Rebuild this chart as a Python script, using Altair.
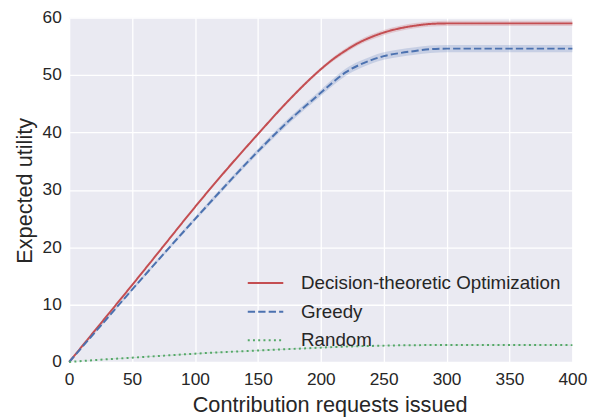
import altair as alt
import pandas as pd

x_vals = [0, 25, 50, 75, 100, 125, 150, 175, 200, 210, 220, 230, 240, 250, 262, 275, 287, 300, 325, 350, 375, 400]
dto = [0, 6.7, 13.4, 20.2, 27.0, 33.5, 39.7, 45.7, 51.0, 52.8, 54.3, 55.6, 56.6, 57.4, 58.1, 58.6, 58.9, 59.0, 59.0, 59.0, 59.0, 59.0]
greedy = [0, 6.3, 12.6, 18.8, 24.9, 30.9, 36.7, 42.1, 46.9, 48.8, 50.5, 51.7, 52.6, 53.3, 53.8, 54.2, 54.5, 54.6, 54.6, 54.6, 54.6, 54.6]
rand = [0, 0.4, 0.75, 1.1, 1.45, 1.75, 2.0, 2.25, 2.5, 2.6, 2.68, 2.75, 2.8, 2.85, 2.9, 2.93, 2.95, 2.96, 2.96, 2.95, 2.95, 2.94]
dto_err = [0, 0.1, 0.12, 0.15, 0.18, 0.2, 0.22, 0.25, 0.3, 0.35, 0.4, 0.42, 0.45, 0.45, 0.45, 0.45, 0.45, 0.45, 0.45, 0.45, 0.45, 0.45]
greedy_err = [0, 0.2, 0.25, 0.3, 0.35, 0.4, 0.45, 0.5, 0.55, 0.6, 0.62, 0.65, 0.65, 0.65, 0.65, 0.65, 0.65, 0.65, 0.65, 0.65, 0.65, 0.65]
rand_err = [0, 0.05, 0.06, 0.07, 0.08, 0.08, 0.08, 0.08, 0.08, 0.08, 0.08, 0.08, 0.08, 0.08, 0.08, 0.08, 0.08, 0.08, 0.08, 0.08, 0.08, 0.08]

names = ["Decision-theoretic Optimization", "Greedy", "Random"]
colors = ["#C44E52", "#4C72B0", "#55A868"]
dashes = [[1, 0], [7.4, 3.2], [2, 3.3]]

rows = []
for name, ys, errs in zip(names, [dto, greedy, rand], [dto_err, greedy_err, rand_err]):
    for xv, yv, ev in zip(x_vals, ys, errs):
        rows.append({"x": xv, "y": yv, "lo": yv - ev, "hi": yv + ev, "method": name})
df = pd.DataFrame(rows)

xscale = alt.Scale(domain=[0, 400], nice=False)
yscale = alt.Scale(domain=[0, 60], nice=False)

xenc = alt.X("x:Q", scale=xscale,
             axis=alt.Axis(values=list(range(0, 401, 50)), title="Contribution requests issued",
                           labelPadding=9, labelFlush=False, titleX=264, titleY=50,
                           titleBaseline="alphabetic"))
yenc = alt.Y("y:Q", scale=yscale,
             axis=alt.Axis(values=list(range(0, 61, 10)), title="Expected utility",
                           labelPadding=8, labelFlush=False, titleX=-45, titleY=175, titleAngle=-90,
                           titleBaseline="middle", titleAlign="center"))

bands = []
for name, col in zip(names, colors):
    bands.append(
        alt.Chart(df).transform_filter(alt.datum.method == name)
        .mark_area(opacity=0.22, interpolate="monotone", color=col)
        .encode(x=alt.X("x:Q", scale=xscale), y=alt.Y("lo:Q", scale=yscale), y2="hi:Q")
    )

lines = alt.Chart(df).mark_line(strokeWidth=2, interpolate="monotone").encode(
    x=xenc,
    y=yenc,
    color=alt.Color("method:N", scale=alt.Scale(domain=names, range=colors),
                    sort=names,
                    legend=alt.Legend(title=None, orient="none", legendX=180, legendY=250,
                                      symbolType="stroke", symbolSize=1296, symbolStrokeWidth=2,
                                      labelFontSize=19, labelOffset=17, rowPadding=0,
                                      labelLimit=400, labelColor="#262626", padding=0)),
    strokeDash=alt.StrokeDash("method:N", scale=alt.Scale(domain=names, range=dashes), sort=names),
)

chart = alt.layer(*bands, lines).properties(
    width=510, height=349,
    padding={"left": 62, "top": 7, "right": 28, "bottom": 55},
    autosize=alt.AutoSizeParams(type="none"),
).configure(
    font="Liberation Sans",
).configure_view(
    fill="#EAEAF2", stroke=None,
).configure_axis(
    grid=True, gridColor="white", gridWidth=1.3, domain=False, ticks=False,
    labelFontSize=17.5, labelColor="#262626", titleFontSize=22,
    titleFontWeight="normal", titleColor="#262626",
)

chart.save("out.html", embed_options={"renderer": "svg", "actions": False})
